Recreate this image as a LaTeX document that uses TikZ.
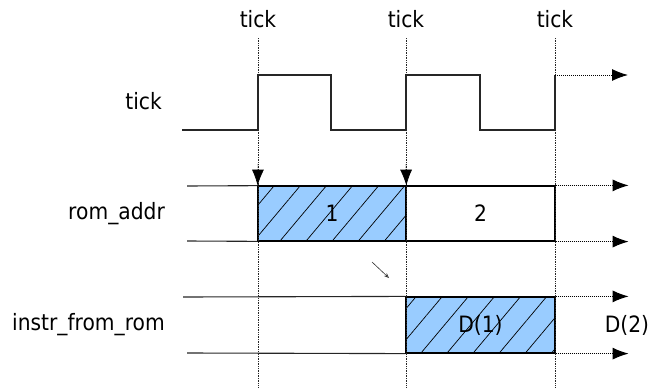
\documentclass[tikz,border=0pt]{standalone}
\usepackage{fontspec}
\setmainfont{DejaVu Sans}[FakeStretch=0.9]
\usetikzlibrary{arrows.meta,patterns.meta}
\definecolor{busyblue}{RGB}{153,204,255}
\begin{document}
\begin{tikzpicture}[x=1pt,y=-1pt,
  font=\fontsize{22.5}{26}\selectfont,
  grid/.style={densely dotted, line width=0.7pt, black!85},
  sig/.style={line width=1.1pt, black!85},
  cont/.style={densely dotted, line width=1pt, black,
    -{Latex[length=16pt,width=12pt]}},
  busy/.style={draw=black, line width=1.2pt,
    preaction={fill=busyblue},
    pattern={Lines[angle=50,distance=20pt,line width=0.7pt]}},
  idle/.style={draw=black, line width=1.2pt, fill=white},
  signame/.style={anchor=east, inner sep=0pt}]
\useasboundingbox (0,0) rectangle (650,388);

% clock edges
\foreach \n/\x in {a/258,b/406,c/555}{
  \coordinate (top\n) at (\x,38);
  \coordinate (bot\n) at (\x,388);
  \node[inner sep=0pt] (tick\n) at (\x,19) {tick};
}

% signal names
\node[signame] (nclk) at (162,101) {tick};
\node[signame] (nrom) at (165,214) {rom\_addr};
\node[signame] (ninstr) at (165,325) {instr\_from\_rom};

% busy intervals
\node[busy, minimum width=148pt, minimum height=55pt, inner sep=0pt]
  (rom1) at (332,213.5) {};
\node[idle, minimum width=149pt, minimum height=55pt, inner sep=0pt]
  (rom2) at (480.5,213.5) {};
\node[busy, minimum width=149pt, minimum height=56pt, inner sep=0pt]
  (ins1) at (480.5,325) {};
\node at (rom1.center) {1};
\node at (rom2.center) {2};
\node at (ins1.center) {D(1)};
\node (d2) at (627,325) {D(2)};

% dotted grid lines at the clock edges
\foreach \n in {a,b,c} \draw[grid] (top\n) -- (bot\n);

% clock waveform
\draw[sig] (182,130) -- (258,130) -- (258,75) -- (331,75) -- (331,130)
  -- (406,130) -- (406,75) -- (480,75) -- (480,130) -- (555,130)
  -- (555,75);
\coordinate (clkend) at (555,75);
\coordinate (clkout) at (628,75);
\draw[cont] (clkend) -- (clkout);

% rom_addr bus lines
\draw[sig] (187,186) -- (rom1.north west);
\draw[sig] (187,241) -- (rom1.south west);
\draw[cont] (rom2.north east) -- ++(73,0);
\draw[cont] (rom2.south east) -- ++(73,0);

% instr_from_rom bus lines
\draw[sig] (183,297) -- (ins1.north west);
\draw[sig] (187,353) -- (ins1.south west);
\draw[cont] (ins1.north east) -- ++(73,0);
\draw[cont] (ins1.south east) -- ++(73,0);

% edge triggers
\draw[densely dotted, line width=0.7pt, -{Latex[length=16pt,width=12pt]}]
  (258,164) -- (rom1.north west);
\draw[densely dotted, line width=0.7pt, -{Latex[length=16pt,width=12pt]}]
  (406,164) -- (rom1.north east);

% read delay marker
\coordinate (dl0) at (372,262);
\coordinate (dl1) at (389,278);
\draw[line width=0.6pt, black!80, -{Stealth[open,length=5pt,width=4pt]}] (dl0) -- (dl1);
\end{tikzpicture}
\end{document}
